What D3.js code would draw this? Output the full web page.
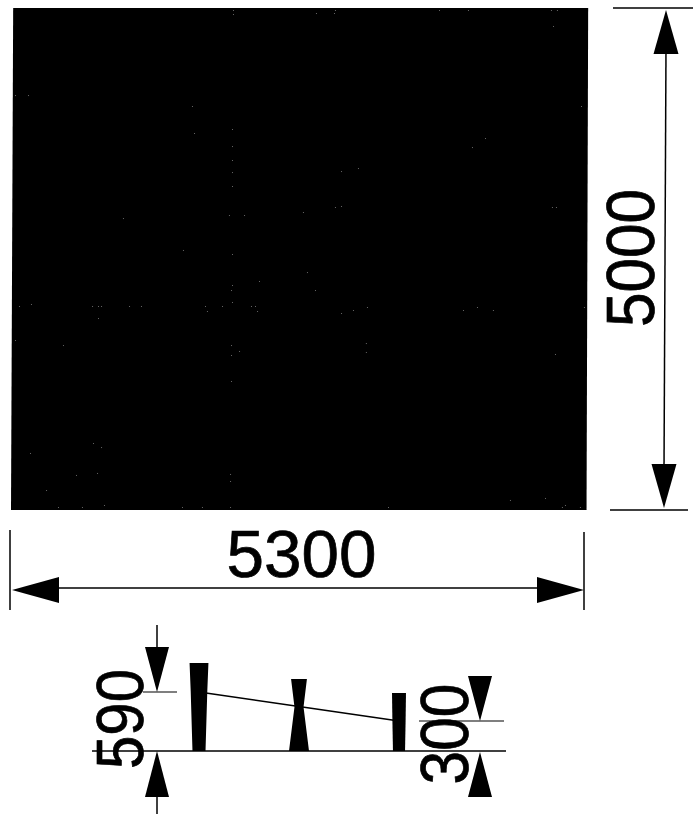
<!DOCTYPE html>
<html>
<head>
<meta charset="utf-8">
<script src="https://cdn.jsdelivr.net/npm/d3@7"></script>
<style>
html, body { margin: 0; padding: 0; background: #fff; }
text { font-family: "Liberation Sans", Arial, sans-serif; fill: #000; stroke: #000; stroke-width: 0.7; }
</style>
</head>
<body>
<svg id="chart" width="693" height="814"></svg>
<script>
'use strict'

// plan, mm
var planWidth = 5300;
var planDepth = 5000;
var planCornersX = [20, 5320, 5305, 0];
var planCornersY = [5000, 5000, 0, 0];

// section, mm
var sectionStations = [0, 2650, 5300];
var sectionLevels = [590, 445, 300];
var postHeights = [880, 720, 580];
var postTopWidths = [500, 420, 370];
var postWaistWidths = [440, 240, 350];
var postFootWidths = [345, 530, 320];
var postWaistLevels = [600, 440, 300];
var labelPlanWidth = '5300';
var labelPlanDepth = '5000';
var labelHigh = '590';
var labelLow = '300';

// scan specks on the plan, mm
var speckX = [2046,2046,2037,2037,2037,2037,2037,2009,2148,1032,1668,1687,37,157,1585,2037,
	2811,2986,2977,3945,4212,4977,5032,4996,5254,4369,4249,3198,3042,2986,3042,2691,4986,5023,
	74,184,747,802,830,1088,1198,1788,1806,1945,2037,2028,2037,2212,2249,2268,2286,802,37,479,2028,2028,2102,2028,
	756,830,175,793,599,323,857,433,654,1576,1760,2019,2019,2019,
	2728,2802,3042,3152,3281,4166,4295,4442,3271,3271,5014,4599,4922,3475,5078,5106,5244,5281];
var speckY = [4980,4940,3795,3625,3486,3366,3227,2938,2938,2908,4024,3755,4133,4133,2590,2550,
	4950,4980,4950,4980,4980,4980,4980,4821,4024,3705,3615,3406,3376,3018,3028,2968,3018,3018,
	2032,2052,2032,2032,2032,2032,2032,2032,1982,2032,2072,2191,2241,2032,2032,1982,2281,1912,1693,1643,1643,1544,1584,1285,
	667,627,568,369,349,199,50,30,30,30,30,30,359,289,
	2370,2191,1962,1992,2022,1992,2022,1992,1663,1574,1554,100,120,30,30,50,30,2022];

var svg = d3.select('#chart');

var x = d3.scaleLinear().domain([0, planWidth]).range([11, 586]);
var y = d3.scaleLinear().domain([0, planDepth]).range([510, 8]);
var sx = d3.scaleLinear().domain([0, planWidth]).range([199, 399]);
var sy = d3.scaleLinear().domain([0, 1000]).range([751, 651]);

var line = d3.line();

function drawSeg(x1, y1, x2, y2, w){
	svg.append('path')
		.attr('d', line([[x1, y1], [x2, y2]]))
		.attr('stroke', '#000')
		.attr('stroke-width', w || 1.5)
		.attr('fill', 'none');
}

// tip at (tx,ty), dx,dy point from the tip back to the base centre
function drawArrow(tx, ty, dx, dy, half){
	var nx = dy === 0 ? 0 : half;
	var ny = dy === 0 ? half : 0;
	svg.append('path')
		.attr('d', line([[tx, ty], [tx + dx + nx, ty + dy + ny], [tx + dx - nx, ty + dy - ny]]) + 'Z')
		.attr('fill', '#000');
}

function drawLabel(txt, px, py, size, len, rotated){
	svg.append('text')
		.attr('transform', `translate(${px},${py})` + (rotated ? ' rotate(-90)' : ''))
		.attr('text-anchor', 'middle')
		.attr('font-size', size)
		.attr('textLength', len)
		.attr('lengthAdjust', 'spacingAndGlyphs')
		.text(txt);
}

// plan plate
svg.append('path')
	.attr('d', d3.line().x(function(d){ return x(d[0]); }).y(function(d){ return y(d[1]); })(
		planCornersX.map(function(v, i){ return [v, planCornersY[i]]; })) + 'Z')
	.attr('fill', '#000');

svg.append('g').selectAll('rect')
	.data(speckX)
	.join('rect')
	.attr('x', function(d){ return x(d); })
	.attr('y', function(d, i){ return y(speckY[i]); })
	.attr('width', 1)
	.attr('height', 1)
	.attr('fill', '#666');

// depth dimension
drawSeg(613, y(planDepth), 693, y(planDepth));
drawSeg(610, y(0), 688, y(0));
drawSeg(666, y(planDepth) + 40, 664, y(0) - 40);
drawArrow(666, y(planDepth) + 2, 0, 44, 12.5);
drawArrow(664, y(0) - 2, 0, -44, 12.5);
drawLabel(labelPlanDepth, 654, y(planDepth / 2) - 1, 68, 138, true);

// width dimension
drawSeg(x(0) - 1, 530, x(0) - 1, 610);
drawSeg(x(planWidth) - 2, 532, x(planWidth) - 2, 610);
drawSeg(x(0) + 40, 588, x(planWidth) - 40, 588);
drawArrow(x(0) + 1, 590, 47, 0, 13);
drawArrow(x(planWidth) - 2, 590, -47, 0, 13);
drawLabel(labelPlanWidth, x(planWidth / 2) + 3, 577, 66, 150, false);

// section
drawSeg(92, sy(0), 506, sy(0), 1.6);

var postArea = d3.line().x(function(d){ return d[0]; }).y(function(d){ return d[1]; });
sectionStations.forEach(function(st, i){
	var k = 200 / planWidth;
	var c = sx(st);
	var t = postTopWidths[i] * k / 2;
	var m = postWaistWidths[i] * k / 2;
	var f = postFootWidths[i] * k / 2;
	var wy = sy(postWaistLevels[i]);
	svg.append('path')
		.attr('d', postArea([
			[c - t, sy(postHeights[i])], [c + t, sy(postHeights[i])],
			[c + m, wy], [c + f, sy(0)], [c - f, sy(0)], [c - m, wy]
		]) + 'Z')
		.attr('fill', '#000');
});

svg.append('path')
	.datum(sectionStations.map(function(st, i){ return [st, sectionLevels[i]]; }))
	.attr('d', d3.line().x(function(d){ return sx(d[0]); }).y(function(d){ return sy(d[1]); }))
	.attr('stroke', '#000')
	.attr('stroke-width', 1.5)
	.attr('fill', 'none');

// section level dimensions
drawSeg(143, sy(sectionLevels[0]), 177, sy(sectionLevels[0]), 1.2);
drawSeg(419, sy(sectionLevels[2]), 504, sy(sectionLevels[2]), 1.2);
drawSeg(157, 625, 157, 650);
drawArrow(157, sy(sectionLevels[0]), 0, -45, 12);
drawArrow(157, sy(0), 0, 46, 12);
drawSeg(157, 795, 157, 814);
drawArrow(480, sy(sectionLevels[2]), 0, -45, 12);
drawArrow(480, sy(0) + 1, 0, 45, 12);
drawLabel(labelHigh, 143, 719, 66, 100, true);
drawLabel(labelLow, 468, 734, 68, 101, true);
</script>
</body>
</html>
